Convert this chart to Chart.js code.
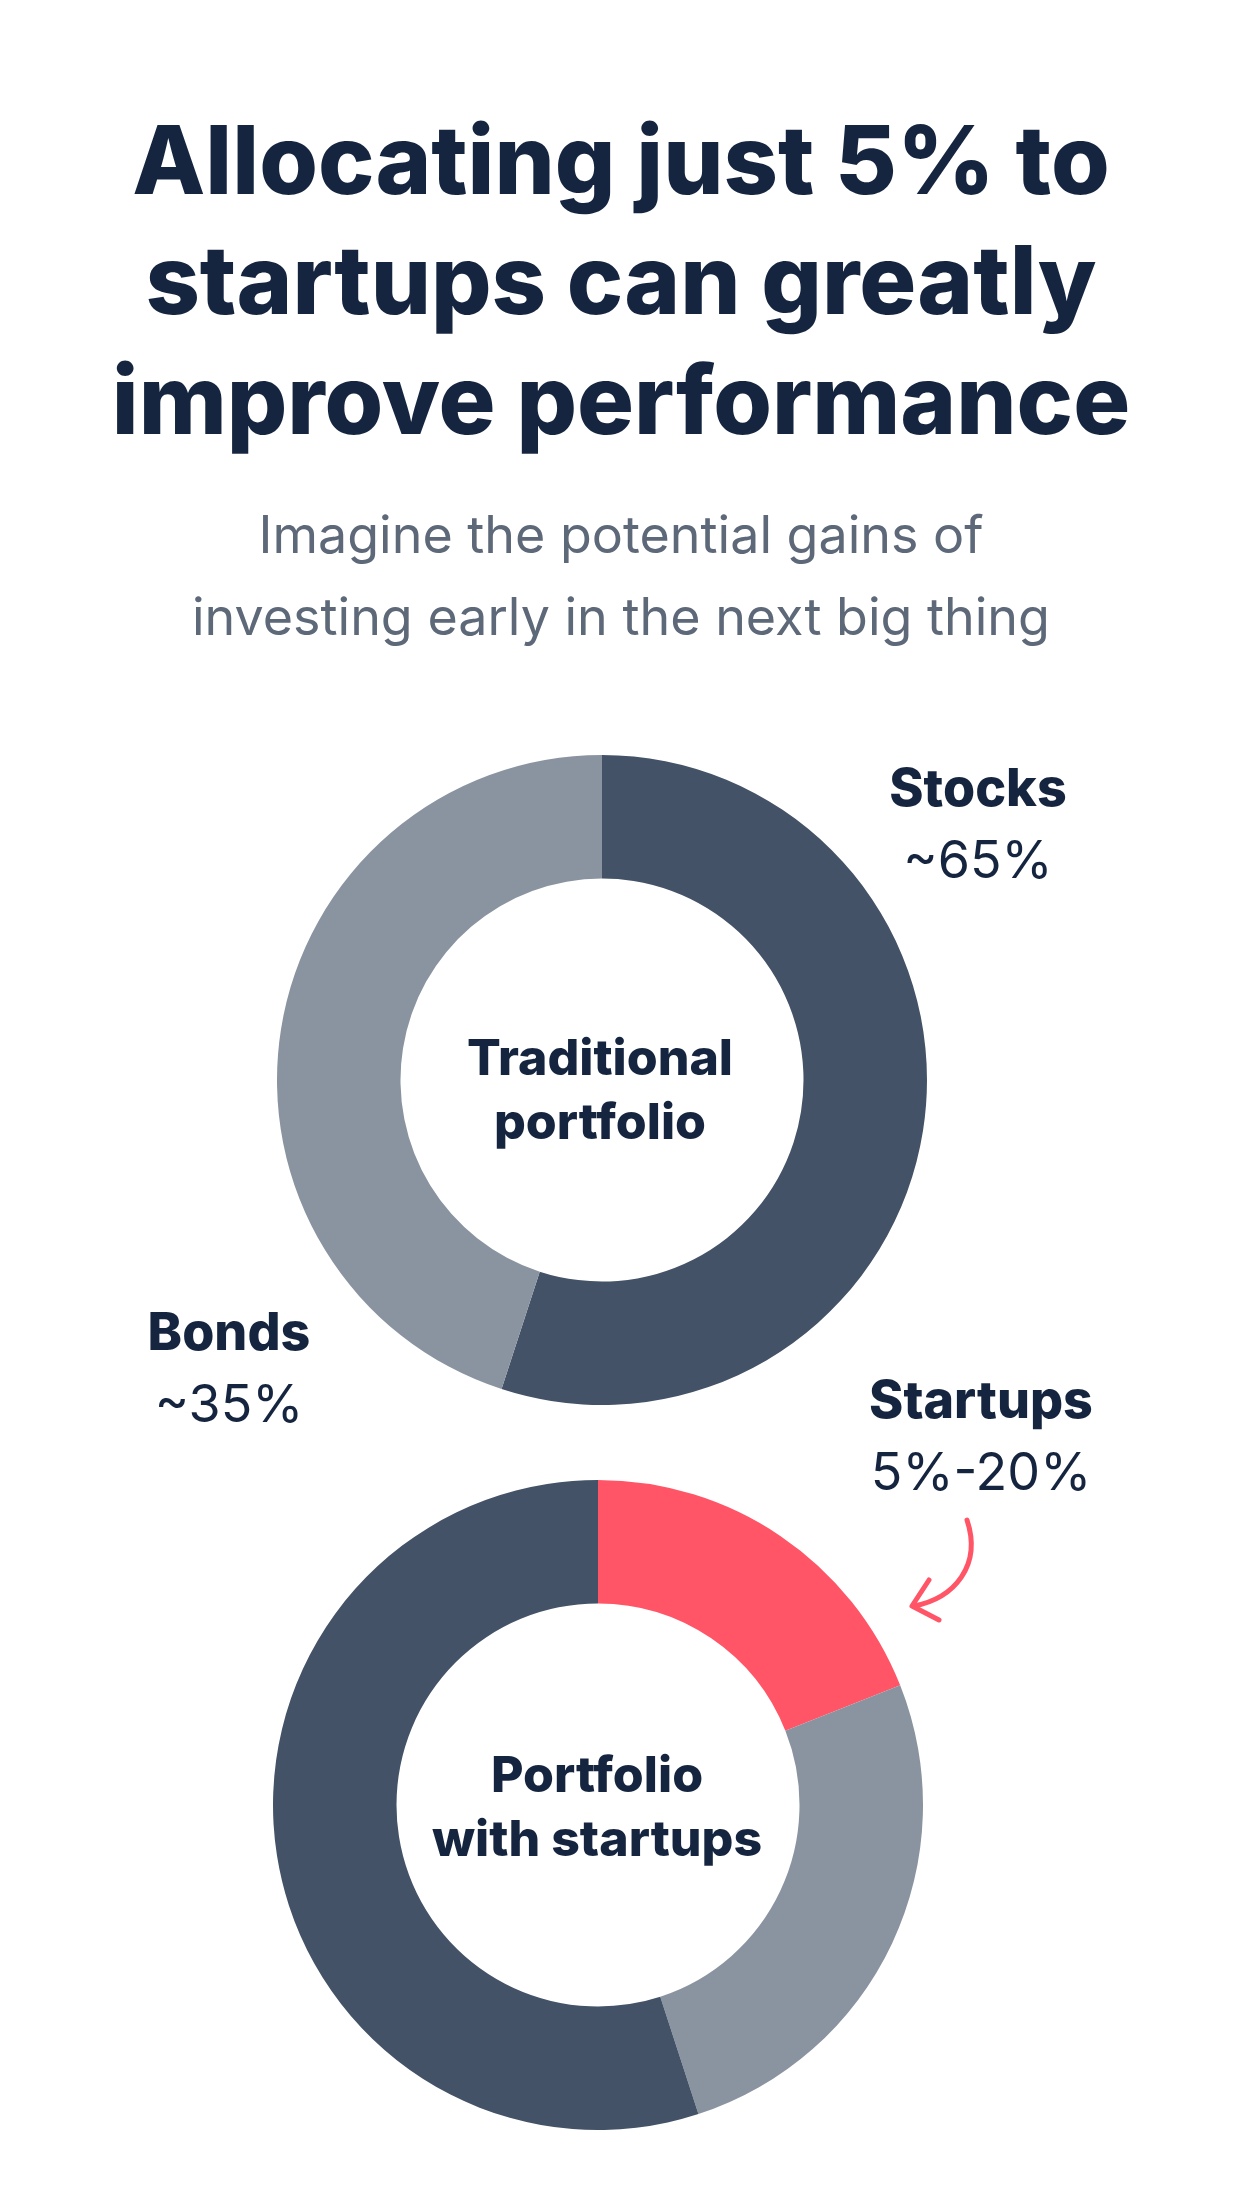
<!DOCTYPE html>
<html>
<head>
<meta charset="utf-8">
<script src="https://cdn.jsdelivr.net/npm/chart.js@4"></script>
<style>
  body { margin: 0; width: 1242px; height: 2208px; background: #fff; position: relative; font-family: Inter, "Noto Sans", sans-serif; color: #16253f; overflow: hidden }
  .t { position: absolute; left: 0; width: 1242px; text-align: center; }
  h1 { position: absolute; top: 100px; left: 0; width: 1242px; margin: 0; text-align: center; font-size: 95px; line-height: 120px; font-weight: 800; letter-spacing: 0px }
  .sub { top: 494px; font-size: 52px; line-height: 82px; color: #5d6878 }
  .lab { position: absolute; width: 400px; text-align: center; font-size: 52px; line-height: 72px }
  .lab b { font-weight: 800 }
  .ctr { position: absolute; width: 400px; text-align: center; font-size: 50px; line-height: 64px; font-weight: 800 }
  canvas { position: absolute }
</style>
</head>
<body>
<h1>Allocating just 5% to<br>startups can greatly<br>improve performance</h1>
<div class="t sub">Imagine the potential gains of<br>investing early in the next big thing</div>

<canvas id="trad" style="left:277px;top:755px"></canvas>
<canvas id="withStartups" style="left:273px;top:1480px"></canvas>
<canvas id="arrow" width="120" height="140" style="left:890px;top:1500px"></canvas>

<div class="ctr" style="left:400px;top:1025px">Traditional<br>portfolio</div>
<div class="ctr" style="left:397px;top:1742px">Portfolio<br>with startups</div>

<div class="lab" style="left:778px;top:752px"><b>Stocks</b><br>~65%</div>
<div class="lab" style="left:29px;top:1296px"><b>Bonds</b><br>~35%</div>
<div class="lab" style="left:781px;top:1364px"><b>Startups</b><br>5%-20%</div>

<script>
// values (slice angles, not the labels)
const tradLabels = ["Stocks", "Bonds"]
const tradValues = [55, 45]
const startupLabels = ["Startups", "Bonds", "Stocks"]
const startupValues = [19, 26, 55]

const DARK = "#435266"
const GRAY = "#8a94a0"
const RED = "#ff5566"

function makeDonut(id, size, labels, values, colors) {
  const canvas = document.getElementById(id)
  canvas.width = size
  canvas.height = size
  new Chart(canvas.getContext("2d"), {
    type: "doughnut",
    data: {
      labels,
      datasets: [{ data: values, backgroundColor: colors, borderWidth: 0 }],
    },
    options: {
      responsive: false,
      animation: false,
      cutout: "62%",
      layout: { padding: 0 },
      plugins: { legend: { display: false }, tooltip: { enabled: false } },
    },
  })
}

makeDonut("trad", 650, tradLabels, tradValues, [DARK, GRAY])
makeDonut("withStartups", 650, startupLabels, startupValues, [RED, GRAY, DARK])

// curved arrow pointing at the startups slice
const a = document.getElementById("arrow").getContext("2d")
a.strokeStyle = RED
a.lineWidth = 5
a.lineCap = "round"
a.lineJoin = "round"
a.beginPath()
a.moveTo(77, 20)
a.bezierCurveTo(92, 65, 65, 98, 24, 106)
a.stroke()
a.beginPath()
a.moveTo(39, 80)
a.lineTo(22, 106)
a.lineTo(49, 120)
a.stroke()
</script>
</body>
</html>
